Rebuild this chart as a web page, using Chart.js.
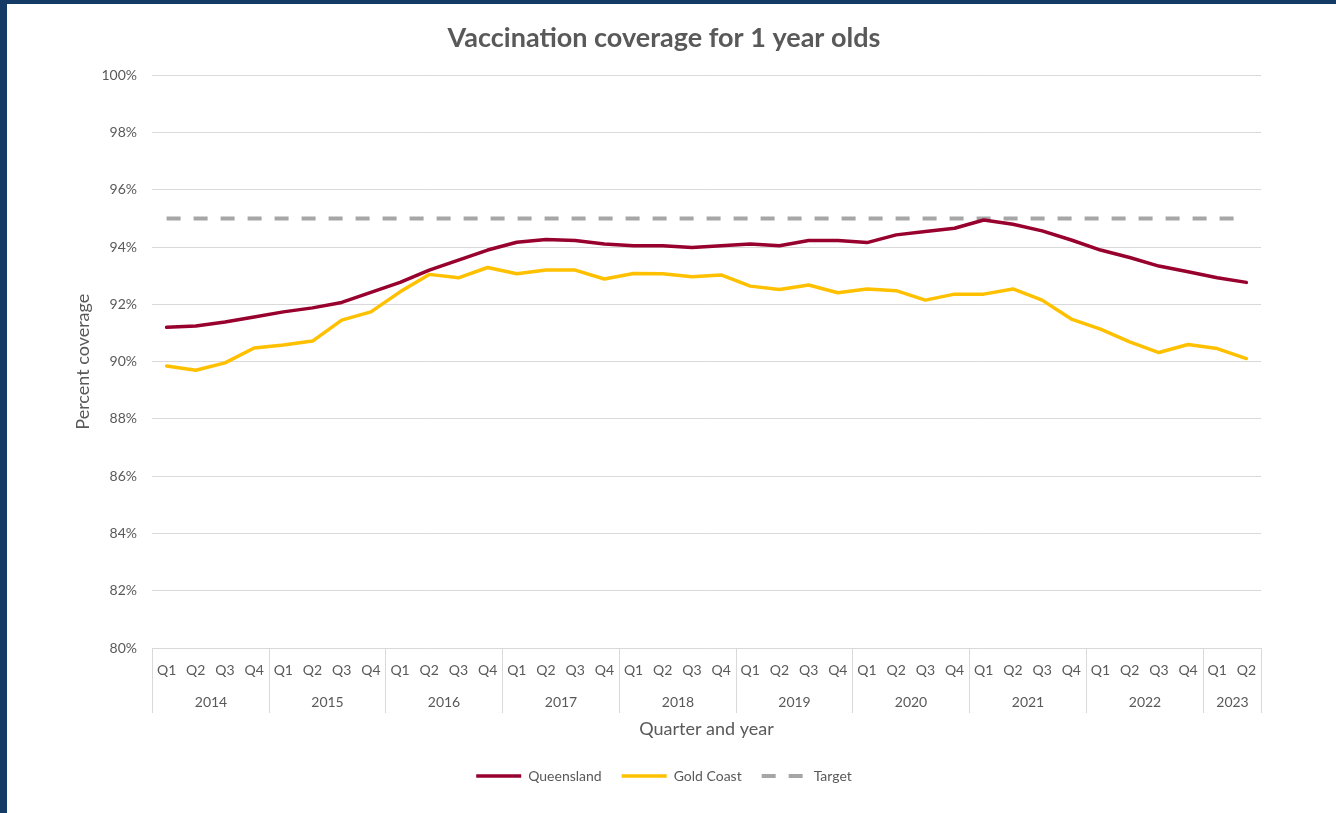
<!DOCTYPE html>
<html>
<head>
<meta charset="utf-8">
<title>Vaccination coverage for 1 year olds</title>
<script src="https://cdn.jsdelivr.net/npm/chart.js@4.4.1/dist/chart.umd.min.js"></script>
<style>
    html, body {
        margin: 0;
        padding: 0;
        background: #133b66;
        overflow: hidden;
    }
    #wrap {
        position: absolute;
        left: 7px;
        top: 4px;
        width: 1329px;
        height: 809px;
        background: #ffffff;
    }
</style>
</head>
<body>
<div id="wrap"><canvas id="coverage-chart"></canvas></div>
<script>
// quarter labels, 2014 Q1 to 2023 Q2
const quarters = [
    'Q1', 'Q2', 'Q3', 'Q4', 'Q1', 'Q2', 'Q3', 'Q4', 'Q1', 'Q2', 'Q3', 'Q4',
    'Q1', 'Q2', 'Q3', 'Q4', 'Q1', 'Q2', 'Q3', 'Q4', 'Q1', 'Q2', 'Q3', 'Q4',
    'Q1', 'Q2', 'Q3', 'Q4', 'Q1', 'Q2', 'Q3', 'Q4', 'Q1', 'Q2', 'Q3', 'Q4',
    'Q1', 'Q2'
];
const years = ['2014', '2015', '2016', '2017', '2018', '2019', '2020', '2021', '2022', '2023'];
const quartersInYear = [4, 4, 4, 4, 4, 4, 4, 4, 4, 2];

const queensland = [
    91.20, 91.25, 91.39, 91.56, 91.74, 91.88, 92.07, 92.42, 92.77, 93.20,
    93.55, 93.90, 94.17, 94.27, 94.23, 94.11, 94.05, 94.05, 93.99, 94.05,
    94.11, 94.05, 94.23, 94.23, 94.16, 94.43, 94.55, 94.66, 94.95, 94.80,
    94.57, 94.25, 93.90, 93.64, 93.34, 93.14, 92.93, 92.77
];
const goldCoast = [
    89.85, 89.70, 89.96, 90.48, 90.58, 90.72, 91.45, 91.74, 92.44, 93.05,
    92.93, 93.29, 93.07, 93.20, 93.20, 92.89, 93.08, 93.07, 92.97, 93.03,
    92.64, 92.52, 92.68, 92.41, 92.54, 92.48, 92.15, 92.36, 92.36, 92.54,
    92.15, 91.49, 91.14, 90.69, 90.32, 90.60, 90.46, 90.11
];
const target = quarters.map(() => 95);

const yTicks = [80, 82, 84, 86, 88, 90, 92, 94, 96, 98, 100];

const TEXT_GREY = '#595959';
const GRID_GREY = '#d9d9d9';
const TARGET_DASH = [14, 13];

Chart.defaults.font.family = 'Lato, "Open Sans", sans-serif';
Chart.defaults.color = TEXT_GREY;

// second row of the category axis: year names with dividers between them
const yearRow = {
    id: 'yearRow',
    afterDraw(chart) {
        const xs = chart.scales.x;
        const ctx = chart.ctx;
        const half = (xs.getPixelForValue(1) - xs.getPixelForValue(0)) / 2;
        const top = chart.chartArea.bottom;
        const bottom = top + 65;

        ctx.save();
        ctx.strokeStyle = GRID_GREY;
        ctx.lineWidth = 1;
        ctx.fillStyle = TEXT_GREY;
        ctx.font = '14px ' + Chart.defaults.font.family;
        ctx.textAlign = 'center';
        ctx.textBaseline = 'middle';

        let start = 0;
        years.forEach((year, k) => {
            const end = start + quartersInYear[k] - 1;
            const left = Math.round(xs.getPixelForValue(start) - half) + 0.5;
            const right = Math.round(xs.getPixelForValue(end) + half) + 0.5;
            ctx.beginPath();
            ctx.moveTo(left, top);
            ctx.lineTo(left, bottom);
            if (k === years.length - 1) {
                ctx.moveTo(right, top);
                ctx.lineTo(right, bottom);
            }
            ctx.stroke();
            ctx.fillText(year, (left + right) / 2, top + 54);
            start = end + 1;
        });
        ctx.restore();
    }
};

const ctx = document.getElementById('coverage-chart').getContext('2d');

new Chart(ctx, {
    type: 'line',
    data: {
        labels: quarters,
        datasets: [
            {
                label: 'Queensland',
                data: queensland,
                borderColor: '#98002e',
                backgroundColor: '#98002e',
                borderWidth: 3.5,
                pointRadius: 0,
                borderCapStyle: 'round',
                borderJoinStyle: 'round'
            },
            {
                label: 'Gold Coast',
                data: goldCoast,
                borderColor: '#ffc000',
                backgroundColor: '#ffc000',
                borderWidth: 3.5,
                pointRadius: 0,
                borderCapStyle: 'round',
                borderJoinStyle: 'round'
            },
            {
                label: 'Target',
                data: target,
                borderColor: '#a6a6a6',
                backgroundColor: '#a6a6a6',
                borderWidth: 4,
                borderDash: TARGET_DASH,
                pointRadius: 0
            }
        ]
    },
    options: {
        responsive: true,
        maintainAspectRatio: false,
        animation: false,
        layout: {
            padding: { left: 0, right: 15, top: 0, bottom: 20 }
        },
        scales: {
            x: {
                offset: true,
                grid: {
                    display: false,
                    drawTicks: false
                },
                border: { display: false },
                ticks: {
                    padding: 14,
                    maxRotation: 0,
                    autoSkip: false,
                    font: { size: 14 }
                },
                title: {
                    display: true,
                    text: 'Quarter and year',
                    font: { size: 18 },
                    padding: { top: 0, bottom: 9 }
                },
                afterFit: scale => { scale.height = 101; }
            },
            y: {
                min: 80,
                max: 100,
                afterBuildTicks: scale => {
                    scale.ticks = yTicks.map(v => ({ value: v }));
                },
                grid: {
                    color: GRID_GREY,
                    lineWidth: 1,
                    drawTicks: false
                },
                border: { display: false },
                ticks: {
                    padding: 15,
                    font: { size: 14 },
                    callback: value => value + '%'
                },
                title: {
                    display: true,
                    text: 'Percent coverage',
                    font: { size: 18 },
                    padding: { top: 65, bottom: 0 }
                },
                afterFit: scale => { scale.width = 145; }
            },
            spacer: {
                position: 'right',
                display: true,
                grid: { display: false },
                border: { display: false },
                ticks: { display: false },
                afterFit: scale => { scale.width = 60; }
            }
        },
        plugins: {
            title: {
                display: true,
                text: 'Vaccination coverage for 1 year olds',
                color: TEXT_GREY,
                font: { size: 27, weight: 'bold' },
                padding: { top: 18, bottom: 21 }
            },
            legend: {
                display: true,
                position: 'bottom',
                labels: {
                    usePointStyle: true,
                    pointStyle: 'line',
                    pointStyleWidth: 45,
                    padding: 20,
                    color: TEXT_GREY,
                    font: { size: 14 },
                    generateLabels: chart => {
                        const items = Chart.defaults.plugins.legend.labels.generateLabels(chart);
                        items.forEach(item => {
                            const ds = chart.data.datasets[item.datasetIndex];
                            item.lineWidth = ds.borderWidth;
                            item.lineDash = ds.borderDash || [];
                            item.lineCap = 'butt';
                        });
                        return items;
                    }
                }
            },
            tooltip: { enabled: false }
        }
    },
    plugins: [yearRow]
});
</script>
</body>
</html>
